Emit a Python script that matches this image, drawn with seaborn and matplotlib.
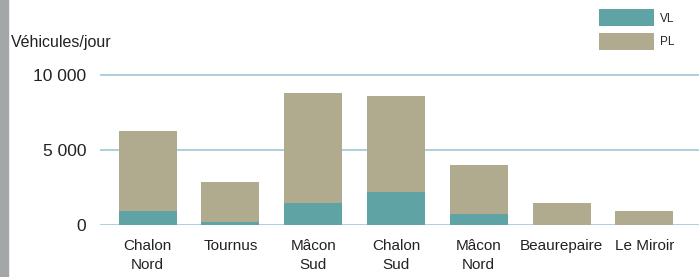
import pandas as pd
import seaborn as sns
import matplotlib.pyplot as plt
from matplotlib.patches import Patch, Rectangle

# values (véhicules/jour)
sites = ['Chalon\nNord', 'Tournus', 'Mâcon\nSud', 'Chalon\nSud', 'Mâcon\nNord', 'Beaurepaire', 'Le Miroir']
vl = [950, 200, 1480, 2200, 760, 0, 0]
pl = [5350, 2700, 7320, 6400, 3240, 1480, 950]
yticks = [0, 5000, 10000]
ytick_labels = ['0', '5 000', '10 000']

df = pd.DataFrame({'site': sites, 'VL': vl, 'PL': pl})
df['total'] = df['VL'] + df['PL']

teal = '#5fa3a5'
khaki = '#b0aa8f'
grid_col = '#a9cbd8'

sns.set_theme(style='white')
plt.rcParams['font.family'] = ['Liberation Sans', 'DejaVu Sans']

fig = plt.figure(figsize=(6.99, 2.77), dpi=100)
ax = fig.add_axes([100 / 699, 52 / 277, 599 / 699, 165 / 277])

sns.barplot(data=df, x='site', y='total', color=khaki, width=0.7, ax=ax,
            saturation=1, edgecolor='none', zorder=2)
sns.barplot(data=df, x='site', y='VL', color=teal, width=0.7, ax=ax,
            saturation=1, edgecolor='none', zorder=3)

ax.set_ylim(0, 11000)
ax.set_xlim(-0.574, 6.66)
ax.set_yticks(yticks)
ax.set_yticklabels(ytick_labels, fontsize=12.5, color='#222222')
ax.set_xticks(range(len(sites)))
ax.set_xticklabels(sites, fontsize=11, linespacing=1.45, color='#222222')
ax.tick_params(axis='x', length=0, pad=10)
ax.tick_params(axis='y', length=0, pad=10)
for y in yticks:
    ax.axhline(y, color=grid_col, lw=1.3, zorder=1)
for s in ax.spines.values():
    s.set_visible(False)
ax.set_xlabel('')
ax.set_ylabel('')

fig.text(11 / 699, 1 - 43 / 277, 'Véhicules/jour', fontsize=11.5, va='center', ha='left',
         color='#222222')

# grey stripe at left edge
fig.patches.append(Rectangle((0, 0), 8 / 699, 1, transform=fig.transFigure,
                             color='#a3a7a7', zorder=0))

handles = [Patch(facecolor=teal, edgecolor='none', label='VL'),
           Patch(facecolor=khaki, edgecolor='none', label='PL')]
fig.legend(handles=handles, loc='upper left', bbox_to_anchor=(599 / 699, 1 - 9 / 277),
           frameon=False, fontsize=8.5, handlelength=4.7, handleheight=1.9,
           labelspacing=0.55, handletextpad=0.5, borderpad=0, borderaxespad=0)

fig.savefig('out.png', dpi=100)
